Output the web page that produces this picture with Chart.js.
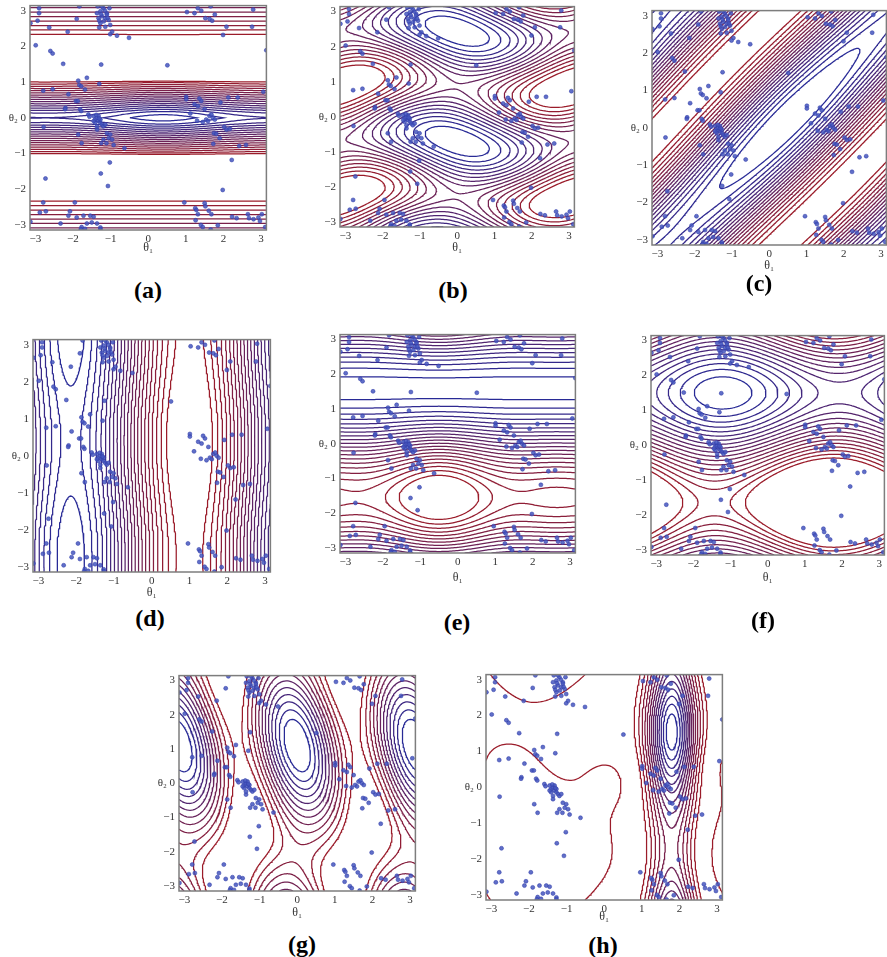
<!DOCTYPE html>
<html><head><meta charset="utf-8">
<script src="https://cdn.jsdelivr.net/npm/chart.js@4"></script>
<style>
html,body{margin:0;padding:0;background:#fff;overflow:hidden;width:887px;height:957px;}
canvas.pc{position:absolute;}
.lab{position:absolute;font-family:'Liberation Serif','Times New Roman',serif;font-weight:bold;font-size:24px;color:#000;transform:translate(-50%,-50%);white-space:nowrap;}
</style></head><body>
<script>
// ---------- data ----------
const tickValues = [-3, -2, -1, 0, 1, 2, 3];
const panelNames = ['(a)', '(b)', '(c)', '(d)', '(e)', '(f)', '(g)', '(h)'];
const axisTitleX = 'θ₁';
const axisTitleY = 'θ₂';

// observed (θ1, θ2) samples, shared by all panels
const pointsTheta1 = [
 -2.90,-2.90,-3.13,-2.94,-2.63,-2.99,-2.60,-2.54,-2.26,-2.14,-1.90,-1.83,
 -1.34,-1.27,-1.19,-1.10,-1.23,-1.32,-1.14,-1.05,-1.27,-1.01,-1.10,-1.36,-1.23,-1.03,-1.30,-0.96,-1.01,-0.83,-0.51,-1.14,-1.18,-1.25,-1.08,-1.15,-1.30,
 1.03,1.23,1.32,1.41,1.66,1.52,1.63,1.77,1.70,2.08,1.99,2.79,2.76,3.14,0.51,
 -1.25,-1.63,-1.86,-1.83,-1.78,-1.68,-1.30,-2.79,-2.54,-2.12,-1.92,-1.87,-2.20,-2.21,-1.81,-1.78,-1.59,-1.56,-2.78,-1.86,-1.77,-1.36,
 -1.45,-1.41,-1.36,-1.32,-1.27,-1.23,-1.41,-1.19,-1.32,-1.27,-1.45,-1.14,-1.36,-1.38,-1.30,
 -1.10,-1.05,-1.19,-0.96,-1.01,-1.11,-1.25,-0.92,-0.63,-1.02,-1.26,-1.07,-2.73,
 1.01,1.01,1.23,1.32,1.41,1.36,1.50,1.63,1.72,1.68,1.54,1.77,1.59,1.45,1.92,2.13,2.38,3.06,2.02,2.08,2.17,1.75,1.81,1.90,1.73,2.42,2.60,2.22,1.98,1.12,1.30,
 -2.79,-2.88,-2.72,-3.13,-2.33,-1.95,-2.08,-2.12,-1.90,-1.72,-1.54,-1.45,-1.50,-1.63,-1.77,-1.68,-1.27,-1.27,-1.36,-1.79,
 0.96,1.25,1.28,1.32,1.26,1.50,1.52,1.61,1.68,1.40,1.45,1.66,1.85,2.23,2.35,2.68,2.80,2.93,3.02,2.97,3.11,2.65
];
const pointsTheta2 = [
 3.07,2.93,2.65,2.72,2.53,2.03,1.87,1.80,1.51,2.41,2.77,3.12,
 3.12,2.98,3.07,2.93,2.84,2.79,2.79,2.74,2.65,2.60,2.89,2.93,3.12,3.07,2.53,2.41,2.34,2.30,2.24,2.55,2.70,2.90,2.80,3.00,2.72,
 2.96,2.93,3.07,3.00,3.12,2.79,2.77,2.89,2.72,2.55,2.32,3.03,2.55,1.89,1.47,
 1.49,1.12,1.04,0.92,0.88,0.79,0.95,0.76,0.80,0.66,0.47,0.47,0.28,0.24,0.24,0.19,0.09,0.03,-0.26,-0.47,-0.71,-0.33,
 0.05,-0.05,0.00,-0.09,-0.14,-0.19,-0.14,-0.24,0.05,-0.05,-0.09,-0.19,-0.24,0.08,-0.02,
 -0.43,-0.57,-0.61,-0.61,-0.47,-0.71,-0.71,-0.76,-0.85,-1.25,-1.56,-1.91,-1.70,
 0.59,0.52,0.38,0.33,0.47,0.54,0.24,0.05,0.00,0.09,-0.05,-0.05,-0.09,-0.12,0.43,0.57,0.57,0.73,-0.26,-0.33,-0.31,-0.43,-0.45,-0.57,-0.73,-0.79,-0.76,-1.18,-2.02,0.12,-0.08,
 -2.37,-2.65,-2.62,-2.91,-2.96,-2.37,-2.62,-2.74,-2.79,-2.74,-2.74,-2.77,-2.93,-2.96,-3.06,-3.11,-3.07,-3.12,-2.96,-3.12,
 -2.37,-2.53,-2.58,-2.70,-2.87,-2.39,-2.48,-2.60,-2.70,-3.00,-3.06,-3.13,-3.01,-2.77,-2.81,-2.81,-2.84,-2.79,-2.70,-2.89,-3.06,-2.70
];

// energy-surface estimates for each panel
// wave: [A, m, n, phase]  -> A cos(m θ1 + n θ2 - phase)
// prod: [A, m, p1, n, p2] -> A cos(m θ1 - p1) cos(n θ2 - p2)
// vm:   [A, μ1, μ2, κ1, κ2, λ] -> von Mises bump
// profile: piecewise-linear energy along θ2
const profileA_theta2 = [-3.1416, -2.3, -2.15, -1.15, -1.0, -0.15, 0, 0.15, 1.0, 1.15, 2.15, 2.3, 3.1416];
const profileA_value  = [0.5, 0.98, 1.3, 1.3, 0.98, 0.08, 0, 0.08, 0.98, 1.3, 1.3, 0.98, 0.5];
const fieldA_vm   = [[-0.3, 0.4, 0, 0.5, 3.0, 0]];
const fieldB_wave = [[-1, 1, 0, 0], [-1, 0, 2, -1.4], [0.3, 1, -2, 1.4], [-0.3, 1, 2, -1.4]];
const fieldC_wave = [[-1, -1, 1, -0.3], [-0.06, 1, 0, 0.5], [-0.06, 0, 1, 0.3]];
const fieldD_wave = [[1, 1, 0, 1.0], [0.06, 0, 1, 0.4]];
const fieldE_prod = [[-1, 0, 0, 1, 1.6], [0.095, 1, -0.5, 0, 0], [-0.095, 1, -0.5, 1, 1.6], [0.04, 2, -1.0, 0, 0], [-0.04, 2, -1.0, 1, 1.6]];
const fieldF_prod = [[-1, 0, 0, 1, 1.5], [-0.175, 1, -1.2, 0, 0], [-0.175, 1, -1.2, 1, 1.5], [0.225, 1, 1.7, 0, 0], [-0.225, 1, 1.7, 1, 1.5]];
const fieldG_wave = [[-0.8, 2, 0, 0], [-0.6, 0, 1, 1.1], [-0.45, 2, 1, 1.1]];
const fieldH_vm   = [[-3, 1.8, 1.5, 5, 0.4, 0], [1.0, -1.8, -1.9, 0.6, 0.6, 0], [0.3, -3.0, 0.6, 1.5, 2.0, 0], [0.33, 0.2, 0.2, 2.5, 2.0, 0]];

// contour levels: [lowest, highest, count] (+ optional extra levels)
const levelsA = [-0.25, 0.96, 18];
const levelsB = [-1.75, 1.5, 16];
const levelsC = [-0.965, 0.85, 19];
const levelsD = [-0.995, 0.88, 22];
const levelsE = [-0.95, 1.05, 21];
const levelsF = [-1.25, 0.7, 19];
const levelsG = [-1.6, 0.6, 12];
const levelsH = [-2.7, -0.15, 14];
const extraLevelsH = [0.435];

// ---------- layout ----------
const panels = [
 {name: panelNames[0], frame: [29.5, 5, 266.5, 230],   xh: 25, label: [148, 290], field: {vm: fieldA_vm, prof: [[profileA_theta2, profileA_value]]}, levels: levelsA},
 {name: panelNames[1], frame: [339.5, 6, 574, 226.5],  xh: 28, label: [453, 290], field: {wave: fieldB_wave}, levels: levelsB},
 {name: panelNames[2], frame: [652, 9.5, 887, 244],    xh: 28, label: [759, 283], field: {wave: fieldC_wave}, levels: levelsC},
 {name: panelNames[3], frame: [32.5, 338.5, 270, 571], xh: 28, label: [150, 618], field: {wave: fieldD_wave}, levels: levelsD},
 {name: panelNames[4], frame: [339.5, 333.5, 575, 552],xh: 32, label: [457, 622], field: {prod: fieldE_prod}, levels: levelsE},
 {name: panelNames[5], frame: [650.5, 335, 884, 555],  xh: 30, label: [763, 620], field: {prod: fieldF_prod}, levels: levelsF},
 {name: panelNames[6], frame: [178.5, 675, 415.5, 891],xh: 29, label: [302, 944], field: {wave: fieldG_wave}, levels: levelsG},
 {name: panelNames[7], frame: [486, 674, 722.5, 899.5],xh: 24, label: [603, 945], field: {vm: fieldH_vm}, levels: levelsH, extra: extraLevelsH}
];

const PI = Math.PI;
const GRID = 150;
const BLUE = [40, 42, 150], RED = [155, 28, 42];
const FONT = "'Liberation Serif','Times New Roman',serif";

function interp(knots, vals, v) {
  for (let i = 0; i < knots.length - 1; i++) {
    if (v <= knots[i + 1]) { const t = (v - knots[i]) / (knots[i + 1] - knots[i]); return vals[i] + (vals[i + 1] - vals[i]) * Math.max(0, Math.min(1, t)); }
  }
  return vals[vals.length - 1];
}

function evalField(spec, x, y) {
  let s = 0;
  for (const [A, m, n, ph] of (spec.wave || [])) s += A * Math.cos(m * x + n * y - ph);
  for (const [A, m, p1, n, p2] of (spec.prod || [])) s += A * Math.cos(m * x - p1) * Math.cos(n * y - p2);
  for (const [A, u1, u2, k1, k2, lam] of (spec.vm || []))
    s += A * Math.exp(k1 * (Math.cos(x - u1) - 1) + k2 * (Math.cos(y - u2) - 1) + lam * Math.sin(x - u1) * Math.sin(y - u2));
  for (const [kn, vl] of (spec.prof || [])) s += interp(kn, vl, y);
  return s;
}

function contourPolylines(F, xs, ys, L) {
  const N = xs.length - 1;
  const pts = new Map();
  const segs = [];
  function P(key, x0, y0, v0, x1, y1, v1) {
    if (!pts.has(key)) { const t = (L - v0) / (v1 - v0); pts.set(key, [x0 + (x1 - x0) * t, y0 + (y1 - y0) * t]); }
    return key;
  }
  for (let j = 0; j < N; j++) for (let i = 0; i < N; i++) {
    const a = F[j][i], b = F[j][i + 1], c = F[j + 1][i + 1], d = F[j + 1][i];
    const idx = (a > L ? 1 : 0) | (b > L ? 2 : 0) | (c > L ? 4 : 0) | (d > L ? 8 : 0);
    if (idx === 0 || idx === 15) continue;
    const B = () => P('h' + i + '_' + j, xs[i], ys[j], a, xs[i + 1], ys[j], b);
    const R = () => P('v' + (i + 1) + '_' + j, xs[i + 1], ys[j], b, xs[i + 1], ys[j + 1], c);
    const T = () => P('h' + i + '_' + (j + 1), xs[i], ys[j + 1], d, xs[i + 1], ys[j + 1], c);
    const Lf = () => P('v' + i + '_' + j, xs[i], ys[j], a, xs[i], ys[j + 1], d);
    switch (idx) {
      case 1: case 14: segs.push([Lf(), B()]); break;
      case 2: case 13: segs.push([B(), R()]); break;
      case 3: case 12: segs.push([Lf(), R()]); break;
      case 4: case 11: segs.push([R(), T()]); break;
      case 6: case 9: segs.push([B(), T()]); break;
      case 7: case 8: segs.push([Lf(), T()]); break;
      case 5: { if ((a + b + c + d) / 4 > L) { segs.push([B(), R()]); segs.push([T(), Lf()]); } else { segs.push([Lf(), B()]); segs.push([R(), T()]); } break; }
      case 10: { if ((a + b + c + d) / 4 > L) { segs.push([Lf(), B()]); segs.push([R(), T()]); } else { segs.push([B(), R()]); segs.push([T(), Lf()]); } break; }
    }
  }
  const adj = new Map();
  segs.forEach((s, k) => { for (const e of s) { if (!adj.has(e)) adj.set(e, []); adj.get(e).push(k); } });
  const used = new Uint8Array(segs.length);
  const lines = [];
  for (let k = 0; k < segs.length; k++) {
    if (used[k]) continue;
    used[k] = 1;
    const fwd = [segs[k][1]], back = [];
    let end = segs[k][1];
    for (;;) { const nx = (adj.get(end) || []).find(q => !used[q]); if (nx === undefined) break; used[nx] = 1; const s = segs[nx]; end = s[0] === end ? s[1] : s[0]; fwd.push(end); }
    let st = segs[k][0];
    back.push(st);
    for (;;) { const nx = (adj.get(st) || []).find(q => !used[q]); if (nx === undefined) break; used[nx] = 1; const s = segs[nx]; st = s[0] === st ? s[1] : s[0]; back.push(st); }
    const chain = back.reverse().concat(fwd);
    lines.push(chain.map(key => pts.get(key)));
  }
  return lines;
}

const framePlugin = {
  id: 'frame',
  afterDraw(c) {
    const {ctx, chartArea: a} = c;
    ctx.save(); ctx.strokeStyle = '#7d7d7d'; ctx.lineWidth = 1.5;
    ctx.strokeRect(a.left, a.top, a.right - a.left, a.bottom - a.top); ctx.restore();
  }
};

function fmt(v) { return v < 0 ? '\u2212' + Math.abs(v) : String(v); }

const YW = 40, PADT = 4, PADR = 4;
const xs = [], ys = [];
for (let i = 0; i <= GRID; i++) { xs.push(-PI + 2 * PI * i / GRID); ys.push(-PI + 2 * PI * i / GRID); }

const pointData = pointsTheta1.map((x, i) => ({x: x, y: pointsTheta2[i]}));

panels.forEach(p => {
  const [L, T, R, B] = p.frame;
  const cv = document.createElement('canvas');
  cv.className = 'pc';
  const w = Math.round(R - L + YW + PADR), h = Math.round(B - T + PADT + p.xh);
  cv.width = w; cv.height = h;
  cv.style.left = (L - YW) + 'px'; cv.style.top = (T - PADT) + 'px';
  cv.style.width = w + 'px'; cv.style.height = h + 'px';
  document.body.appendChild(cv);

  const lab = document.createElement('div');
  lab.className = 'lab'; lab.textContent = p.name;
  lab.style.left = p.label[0] + 'px'; lab.style.top = p.label[1] + 'px';
  document.body.appendChild(lab);

  const F = ys.map(y => xs.map(x => evalField(p.field, x, y)));
  const [lo, hi, n] = p.levels;
  const levs = [];
  for (let k = 0; k < n; k++) levs.push(lo + (hi - lo) * k / (n - 1));
  (p.extra || []).forEach(v => levs.push(v));
  const datasets = [{
    data: pointData, showLine: false, pointRadius: 2, pointStyle: 'circle',
    backgroundColor: 'rgba(68,86,190,0.85)', borderColor: 'rgba(50,62,170,0.9)', borderWidth: 0.6, order: 0
  }];
  levs.forEach((lev, k) => {
    const t = Math.min(1, k / (n - 1));
    const col = `rgb(${BLUE.map((c, q) => Math.round(c + (RED[q] - c) * t)).join(',')})`;
    const lines = contourPolylines(F, xs, ys, lev);
    const data = [];
    lines.forEach(line => { line.forEach(([x, y]) => data.push({x, y})); data.push({x: null, y: null}); });
    datasets.push({data, showLine: true, borderColor: col, borderWidth: 1.25, pointRadius: 0, pointHitRadius: 0, tension: 0, spanGaps: false, order: 1});
  });

  new Chart(cv, {
    type: 'scatter',
    data: {datasets},
    options: {
      responsive: false, animation: false, events: [],
      layout: {padding: {left: 0, top: PADT, right: PADR, bottom: 0}},
      plugins: {legend: {display: false}, tooltip: {enabled: false}},
      scales: {
        x: {
          type: 'linear', min: -PI, max: PI,
          afterBuildTicks: s => { s.ticks = tickValues.map(v => ({value: v})); },
          afterFit: s => { s.height = p.xh; s.paddingLeft = 0; s.paddingRight = 0; },
          ticks: {font: {family: FONT, size: 11}, color: '#333', padding: 3, maxRotation: 0, autoSkip: false, callback: v => fmt(v)},
          grid: {display: false, drawTicks: false}, border: {display: false},
          title: {display: true, text: axisTitleX, font: {family: FONT, size: 12}, color: '#333', padding: 0}
        },
        y: {
          type: 'linear', min: -PI, max: PI,
          afterBuildTicks: s => { s.ticks = tickValues.map(v => ({value: v})); },
          afterFit: s => { s.width = YW; s.paddingTop = 0; s.paddingBottom = 0; },
          ticks: {font: {family: FONT, size: 11}, color: '#333', padding: 4, autoSkip: false, callback: v => v === 0 ? axisTitleY + ' 0' : fmt(v)},
          grid: {display: false, drawTicks: false}, border: {display: false}
        }
      }
    },
    plugins: [framePlugin]
  });
});
</script>
</body></html>
